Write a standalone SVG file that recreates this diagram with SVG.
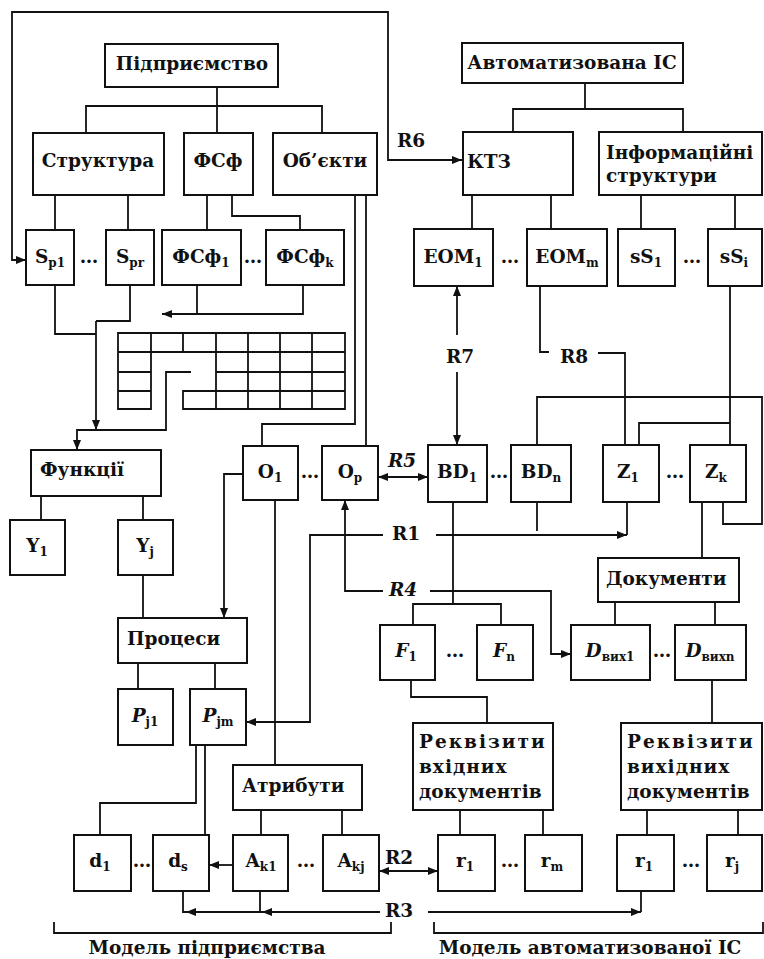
<svg xmlns="http://www.w3.org/2000/svg" width="764" height="959" viewBox="0 0 764 959">
<style>
.b{fill:#fff;stroke:#111;stroke-width:2}
.c{fill:none;stroke:#111;stroke-width:1.8}
.g{fill:none;stroke:#111;stroke-width:1.8}
text{font-family:"DejaVu Serif",serif;font-size:18.5px;font-weight:bold;fill:#111}
.m{text-anchor:middle}
.s{font-size:12px}
.i{font-style:italic}
.w{letter-spacing:2px}
.v{letter-spacing:1px}
</style>
<defs>
<marker id="a" viewBox="0 0 10 8" refX="10" refY="4" markerWidth="10" markerHeight="8" markerUnits="userSpaceOnUse" orient="auto-start-reverse"><path d="M0,0 L10,4 L0,8 z" fill="#111"/></marker>
</defs>
<g id="connectors" class="c">
<path d="M217,87 V133 M86,133 V106 H322 V133"/>
<path d="M585,83 V109 M513,132 V109 H683 V132"/>
<path d="M26,260 H12 V12 H388 V160 H462" marker-start="url(#a)" marker-end="url(#a)"/>
<path d="M55,195 V230 M128,195 V230 M207,195 V230 M232,195 V216 H300 V230"/>
<path d="M303,285 V314 H162" marker-end="url(#a)"/>
<path d="M197,285 V314"/>
<path d="M55,285 V334 H96 M130,285 V321 H96"/>
<path d="M96,321 V430" marker-end="url(#a)"/>
<path d="M191,372 H166 V430 H77 V450" marker-end="url(#a)"/>
<path d="M355,195 V424 H262 V446 M366,195 V446"/>
<path d="M243,474 H224 V618" marker-end="url(#a)"/>
<path d="M275,500 V765"/>
<path d="M383,591 H345 V500" marker-end="url(#a)"/>
<path d="M430,591 H551 V654 H571" marker-end="url(#a)"/>
<path d="M383,535 H310 V722 H246" marker-end="url(#a)"/>
<path d="M436,535 H627" marker-end="url(#a)"/>
<path d="M627,502 V535"/>
<path d="M378,477 H428" marker-start="url(#a)" marker-end="url(#a)"/>
<path d="M457,335 V286" marker-end="url(#a)"/>
<path d="M457,372 V445" marker-end="url(#a)"/>
<path d="M540,286 V352 H549 M598,353 H625 V445"/>
<path d="M453,502 V604 M413,625 V604 H501 V625"/>
<path d="M537,502 V531"/>
<path d="M537,445 V397 H762 V524 H723 V502"/>
<path d="M472,195 V229 M551,195 V229 M641,195 V229 M735,195 V229"/>
<path d="M730,286 V445 M639,445 V423 H730"/>
<path d="M702,502 V558 M615,602 V625 M715,602 V625"/>
<path d="M411,680 V697 H487 V723 M712,680 V723"/>
<path d="M460,810 V835 M543,810 V835 M647,810 V835 M738,810 V835"/>
<path d="M41,496 V520 M143,496 V520 M143,575 V618 M138,663 V689 M215,663 V689"/>
<path d="M196,745 V803 H100 V835 M205,745 V835"/>
<path d="M261,810 V835 M342,810 V835"/>
<path d="M233,865 H209" marker-end="url(#a)"/>
<path d="M379,871 H438" marker-start="url(#a)" marker-end="url(#a)"/>
<path d="M380,912 H262" marker-end="url(#a)"/>
<path d="M262,912 H186" marker-end="url(#a)"/>
<path d="M183,891 V912 H186 M260,891 V912"/>
<path d="M428,912 H641" marker-end="url(#a)"/>
<path d="M641,891 V912"/>
</g>
<g id="labels">
<text x="397" y="147">R6</text>
<text x="460" y="363" class="m">R7</text>
<text x="560" y="363">R8</text>
<text x="388" y="467" class="i">R5</text>
<text x="392" y="540">R1</text>
<text x="389" y="596" class="i">R4</text>
<text x="385" y="864">R2</text>
<text x="385" y="917">R3</text>
</g>
<g id="grid" class="g">
<path d="M118,333 H345 V409 H183 V391 H216 V352 H151 V409 H118 Z"/>
<path d="M118,352 H151 M118,372 H151 M118,391 H151 M216,352 H345 M216,372 H345 M216,391 H345"/>
<path d="M151,333 V352 M183,333 V352 M216,333 V352 M216,391 V409 M248,333 V409 M280,333 V409 M312,333 V409"/>
</g>
<g id="brackets" class="c">
<path d="M54,922 V933 H391 V922"/>
<path d="M434,922 V933 H763 V922"/>
</g>
<g id="n-pidpr"><rect class="b" x="105" y="44" width="173" height="43"/><text x="192" y="70" class="m">Підприємство</text></g>
<g id="n-auto"><rect class="b" x="462" y="43" width="221" height="40"/><text x="572" y="69" class="m">Автоматизована ІС</text></g>
<g id="n-struct"><rect class="b" x="33" y="133" width="131" height="62"/><text x="98" y="167" class="m">Структура</text></g>
<g id="n-fsf"><rect class="b" x="184" y="133" width="69" height="62"/><text x="218" y="167" class="m">ФСф</text></g>
<g id="n-obj"><rect class="b" x="273" y="133" width="104" height="62"/><text x="325" y="167" class="m">Об’єкти</text></g>
<g id="n-ktz"><rect class="b" x="463" y="132" width="110" height="63"/><text x="467" y="168">КТЗ</text></g>
<g id="n-info"><rect class="b" x="599" y="132" width="163" height="63"/><text x="606" y="159">Інформаційні</text><text x="606" y="182">структури</text></g>
<g id="n-sp1"><rect class="b" x="26" y="230" width="48" height="55"/><text x="50" y="263" class="m">S<tspan class="s" dy="4">p1</tspan></text></g>
<g id="n-spr"><rect class="b" x="106" y="230" width="48" height="55"/><text x="130" y="263" class="m">S<tspan class="s" dy="4">pr</tspan></text></g>
<g id="n-fsf1"><rect class="b" x="162" y="230" width="79" height="55"/><text x="201" y="263" class="m">ФСф<tspan class="s" dy="4">1</tspan></text></g>
<g id="n-fsfk"><rect class="b" x="266" y="230" width="78" height="55"/><text x="305" y="263" class="m">ФСф<tspan class="s" dy="4">k</tspan></text></g>
<g id="n-eom1"><rect class="b" x="414" y="229" width="79" height="57"/><text x="453" y="263" class="m">EOM<tspan class="s" dy="4">1</tspan></text></g>
<g id="n-eomm"><rect class="b" x="527" y="229" width="80" height="57"/><text x="567" y="263" class="m">EOM<tspan class="s" dy="4">m</tspan></text></g>
<g id="n-ss1"><rect class="b" x="618" y="229" width="57" height="57"/><text x="646" y="263" class="m">sS<tspan class="s" dy="4">1</tspan></text></g>
<g id="n-ssi"><rect class="b" x="708" y="229" width="54" height="57"/><text x="734" y="263" class="m">sS<tspan class="s" dy="4">i</tspan></text></g>
<g id="dots-top"><text x="89" y="263" class="m">…</text><text x="253" y="263" class="m">…</text><text x="510" y="263" class="m">…</text><text x="692" y="263" class="m">…</text></g>
<g id="n-func"><rect class="b" x="31" y="450" width="130" height="46"/><text x="40" y="476">Функції</text></g>
<g id="n-o1"><rect class="b" x="243" y="446" width="55" height="54"/><text x="270" y="478" class="m">O<tspan class="s" dy="4">1</tspan></text></g>
<g id="n-op"><rect class="b" x="322" y="446" width="56" height="54"/><text x="350" y="478" class="m">O<tspan class="s" dy="4">p</tspan></text></g>
<g id="n-bd1"><rect class="b" x="428" y="445" width="59" height="57"/><text x="457" y="478" class="m">BD<tspan class="s" dy="4">1</tspan></text></g>
<g id="n-bdn"><rect class="b" x="511" y="445" width="60" height="57"/><text x="541" y="478" class="m">BD<tspan class="s" dy="4">n</tspan></text></g>
<g id="n-z1"><rect class="b" x="603" y="445" width="56" height="57"/><text x="628" y="478" class="m">Z<tspan class="s" dy="4">1</tspan></text></g>
<g id="n-zk"><rect class="b" x="690" y="445" width="56" height="57"/><text x="716" y="478" class="m">Z<tspan class="s" dy="4">k</tspan></text></g>
<g id="dots-mid"><text x="310" y="478" class="m">…</text><text x="499" y="478" class="m">…</text><text x="675" y="478" class="m">…</text></g>
<g id="n-y1"><rect class="b" x="10" y="520" width="55" height="55"/><text x="37" y="552" class="m">Y<tspan class="s" dy="4">1</tspan></text></g>
<g id="n-yj"><rect class="b" x="118" y="520" width="55" height="55"/><text x="145" y="552" class="m">Y<tspan class="s" dy="4">j</tspan></text></g>
<g id="n-docs"><rect class="b" x="598" y="558" width="141" height="44"/><text x="606" y="585">Документи</text></g>
<g id="n-proc"><rect class="b" x="118" y="618" width="129" height="45"/><text x="127" y="645">Процеси</text></g>
<g id="n-f1"><rect class="b" x="380" y="625" width="55" height="55"/><text x="406" y="657" class="m"><tspan class="i">F</tspan><tspan class="s" dy="4">1</tspan></text></g>
<g id="n-fn"><rect class="b" x="477" y="625" width="56" height="55"/><text x="504" y="657" class="m"><tspan class="i">F</tspan><tspan class="s" dy="4">n</tspan></text></g>
<g id="n-dv1"><rect class="b" x="571" y="625" width="79" height="55"/><text x="610" y="657" class="m"><tspan class="i">D</tspan><tspan class="s" dy="4">вих1</tspan></text></g>
<g id="n-dvn"><rect class="b" x="675" y="625" width="71" height="55"/><text x="710" y="657" class="m"><tspan class="i">D</tspan><tspan class="s" dy="4">вихn</tspan></text></g>
<g id="dots-f"><text x="455" y="657" class="m">…</text><text x="662" y="657" class="m">…</text></g>
<g id="n-pj1"><rect class="b" x="118" y="689" width="55" height="56"/><text x="145" y="722" class="m"><tspan class="i">P</tspan><tspan class="s" dy="4">j1</tspan></text></g>
<g id="n-pjm"><rect class="b" x="190" y="689" width="56" height="56"/><text x="218" y="722" class="m"><tspan class="i">P</tspan><tspan class="s" dy="4">jm</tspan></text></g>
<g id="n-rvh"><rect class="b" x="413" y="723" width="140" height="87"/><text x="419" y="748" class="w">Реквізити</text><text x="419" y="773" class="v">вхідних</text><text x="419" y="798">документів</text></g>
<g id="n-rvy"><rect class="b" x="621" y="723" width="141" height="87"/><text x="627" y="748" class="w">Реквізити</text><text x="627" y="773" class="v">вихідних</text><text x="627" y="798">документів</text></g>
<g id="n-attr"><rect class="b" x="233" y="765" width="129" height="45"/><text x="242" y="792">Атрибути</text></g>
<g id="n-d1"><rect class="b" x="74" y="835" width="57" height="56"/><text x="100" y="867" class="m">d<tspan class="s" dy="4">1</tspan></text></g>
<g id="n-ds"><rect class="b" x="153" y="835" width="56" height="56"/><text x="178" y="867" class="m">d<tspan class="s" dy="4">s</tspan></text></g>
<g id="n-ak1"><rect class="b" x="233" y="835" width="55" height="56"/><text x="261" y="867" class="m">A<tspan class="s" dy="4">k1</tspan></text></g>
<g id="n-akj"><rect class="b" x="323" y="835" width="56" height="56"/><text x="351" y="867" class="m">A<tspan class="s" dy="4">kj</tspan></text></g>
<g id="n-r1"><rect class="b" x="438" y="835" width="57" height="56"/><text x="465" y="867" class="m">r<tspan class="s" dy="4">1</tspan></text></g>
<g id="n-rm"><rect class="b" x="525" y="835" width="57" height="56"/><text x="552" y="867" class="m">r<tspan class="s" dy="4">m</tspan></text></g>
<g id="n-r1b"><rect class="b" x="617" y="835" width="57" height="56"/><text x="644" y="867" class="m">r<tspan class="s" dy="4">1</tspan></text></g>
<g id="n-rj"><rect class="b" x="707" y="835" width="55" height="56"/><text x="732" y="867" class="m">r<tspan class="s" dy="4">j</tspan></text></g>
<g id="dots-bot"><text x="142" y="867" class="m">…</text><text x="306" y="867" class="m">…</text><text x="510" y="867" class="m">…</text><text x="691" y="867" class="m">…</text></g>
<g id="captions"><text x="207" y="954" class="m">Модель підприємства</text><text x="590" y="954" class="m">Модель автоматизованої ІС</text></g>
</svg>
